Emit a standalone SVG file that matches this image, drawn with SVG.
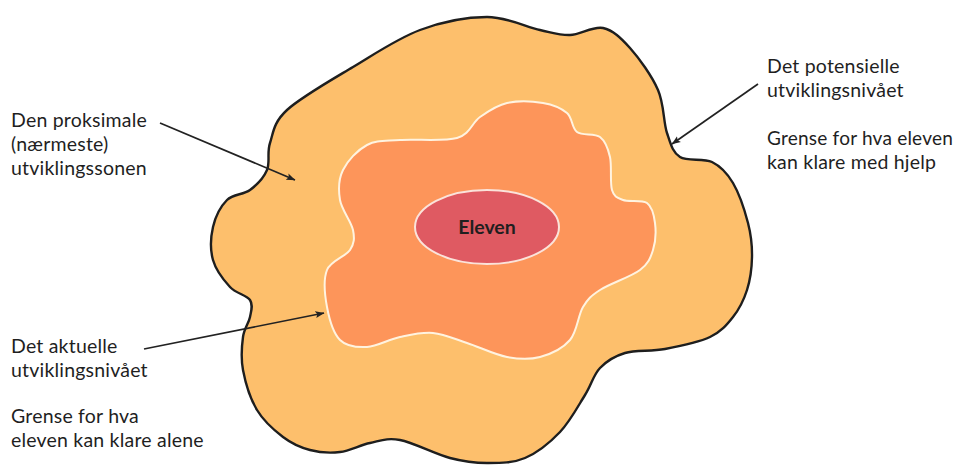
<svg xmlns="http://www.w3.org/2000/svg" width="959" height="466" viewBox="0 0 959 466">
<style>
.lbl{font-family:Lato,"Open Sans","Liberation Sans",sans-serif;font-size:19.5px;letter-spacing:0.2px;fill:#1f1f1f}
.conn{stroke:#222;stroke-width:1.7;fill:none;marker-end:url(#ah)}
</style>
<defs>
<marker id="ah" viewBox="0 0 10 10" refX="9.5" refY="5" markerWidth="9" markerHeight="9" orient="auto" markerUnits="userSpaceOnUse">
<path d="M0,1.2 L10,5 L0,8.8 L2,5 z" fill="#222"/>
</marker>
</defs>
<rect width="959" height="466" fill="#fff"/>
<g id="outer">
<path fill="#FDBF6C" stroke="#1e1e1e" stroke-width="2.4" d="M 487,17 C 507,17 526.2,27 540,30 C 553.8,33 559.5,35.3 570,35 C 580.5,34.7 593,25.8 603,28 C 613,30.2 620.8,37.7 630,48 C 639.2,58.3 651.8,75.8 658,90 C 664.2,104.2 663.3,121.8 667,133 C 670.7,144.2 672.5,152.2 680,157 C 687.5,161.8 703.2,157.7 712,162 C 720.8,166.3 727,172.8 733,183 C 739,193.2 744.8,210.7 748,223 C 751.2,235.3 752.2,245.8 752,257 C 751.8,268.2 750.2,280 747,290 C 743.8,300 739.2,309.2 733,317 C 726.8,324.8 721.3,331.7 710,337 C 698.7,342.3 679.2,346.3 665,349 C 650.8,351.7 635.8,349.8 625,353 C 614.2,356.2 606.7,361 600,368 C 593.3,375 591.7,384.3 585,395 C 578.3,405.7 570,421.5 560,432 C 550,442.5 537.2,452.8 525,458 C 512.8,463.2 499.5,463 487,463 C 474.5,463 464.5,461.8 450,458 C 435.5,454.2 413.3,442.5 400,440 C 386.7,437.5 380,441 370,443 C 360,445 350,450.8 340,452 C 330,453.2 319.5,452.5 310,450 C 300.5,447.5 291.8,443.7 283,437 C 274.2,430.3 263.7,421.2 257,410 C 250.3,398.8 245.3,382.2 243,370 C 240.7,357.8 241.8,345.8 243,337 C 244.2,328.2 248.8,323.2 250,317 C 251.2,310.8 253.3,305 250,300 C 246.7,295 236.2,293.7 230,287 C 223.8,280.3 215.8,270 213,260 C 210.2,250 210.7,237 213,227 C 215.3,217 220.8,206.2 227,200 C 233.2,193.8 243.3,195 250,190 C 256.7,185 263.7,177.8 267,170 C 270.3,162.2 266.7,153 270,143 C 273.3,133 273.2,122.7 287,110 C 300.8,97.3 330.8,80.3 353,67 C 375.2,53.7 397.7,38.3 420,30 C 442.3,21.7 467,17 487,17 Z"/>
</g>
<g id="inner">
<path fill="#FD955A" stroke="#FFF3E0" stroke-width="2" d="M 343,170 C 347.5,160.8 357.5,150 367,145 C 376.5,140 385,141.2 400,140 C 415,138.8 443.7,141.8 457,138 C 470.3,134.2 471.7,122.8 480,117 C 488.3,111.2 496.5,105.3 507,103 C 517.5,100.7 533,101.3 543,103 C 553,104.7 561.3,108.2 567,113 C 572.7,117.8 571.5,128 577,132 C 582.5,136 594.5,132.8 600,137 C 605.5,141.2 608,148.2 610,157 C 612,165.8 609.8,182.8 612,190 C 614.2,197.2 617.2,197.8 623,200 C 628.8,202.2 641.7,199.2 647,203 C 652.3,206.8 654,215.2 655,223 C 656,230.8 655.5,242.2 653,250 C 650.5,257.8 648.8,263.3 640,270 C 631.2,276.7 609.5,283.8 600,290 C 590.5,296.2 588,298.7 583,307 C 578,315.3 577.2,331.7 570,340 C 562.8,348.3 550.5,354.2 540,357 C 529.5,359.8 519.2,359.3 507,357 C 494.8,354.7 479.3,347 467,343 C 454.7,339 444.2,334 433,333 C 421.8,332 411,334.7 400,337 C 389,339.3 377,346.5 367,347 C 357,347.5 346.7,346.7 340,340 C 333.3,333.3 329.2,318.7 327,307 C 324.8,295.3 323.2,279.5 327,270 C 330.8,260.5 345.7,256.7 350,250 C 354.3,243.3 354.7,238.3 353,230 C 351.3,221.7 341.7,210 340,200 C 338.3,190 338.5,179.2 343,170 Z"/>
</g>
<g id="eleven">
<ellipse cx="487" cy="227" rx="72" ry="37" fill="#DF5A62" stroke="#FBE3DA" stroke-width="2"/>
<text x="487" y="234" text-anchor="middle" class="lbl" style="font-weight:bold;letter-spacing:0">Eleven</text>
</g>
<g id="connectors">
<line class="conn" x1="160" y1="123" x2="295" y2="180"/>
<line class="conn" x1="144" y1="349" x2="324" y2="313"/>
<line class="conn" x1="758" y1="84" x2="672" y2="144"/>
</g>
<g id="label-proksimal">
<text class="lbl" x="11" y="127">Den proksimale</text>
<text class="lbl" x="11" y="151">(nærmeste)</text>
<text class="lbl" x="11" y="175">utviklingssonen</text>
</g>
<g id="label-aktuelle">
<text class="lbl" x="11" y="353">Det aktuelle</text>
<text class="lbl" x="11" y="377">utviklingsnivået</text>
<text class="lbl" x="11" y="423">Grense for hva</text>
<text class="lbl" x="11" y="447">eleven kan klare alene</text>
</g>
<g id="label-potensielle">
<text class="lbl" x="767" y="73">Det potensielle</text>
<text class="lbl" x="767" y="97">utviklingsnivået</text>
<text class="lbl" x="767" y="145" textLength="186" lengthAdjust="spacingAndGlyphs">Grense for hva eleven</text>
<text class="lbl" x="767" y="169">kan klare med hjelp</text>
</g>
</svg>
